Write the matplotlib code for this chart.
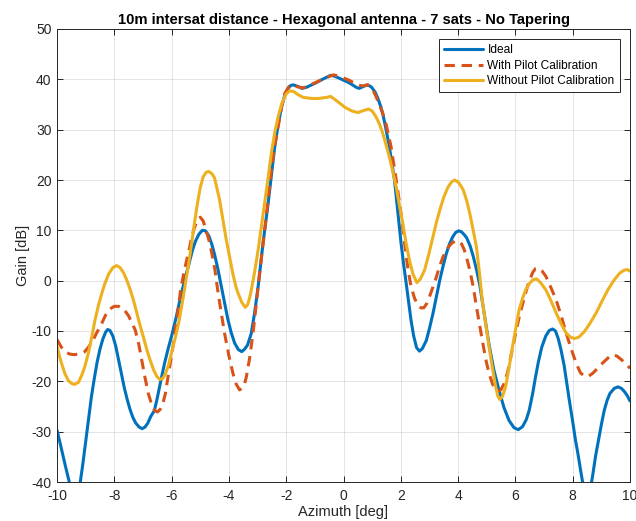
import matplotlib
matplotlib.use("Agg")
import matplotlib.pyplot as plt

plt.rcParams['font.family'] = ['Liberation Sans', 'DejaVu Sans']
plt.rcParams['axes.unicode_minus'] = False

title = "10m intersat distance - Hexagonal antenna - 7 sats - No Tapering"
xlabel = "Azimuth [deg]"
ylabel = "Gain [dB]"
labels = ["Ideal", "With Pilot Calibration", "Without Pilot Calibration"]

ideal_az = [-10.0, -9.85, -9.7, -9.55, -9.38, -9.2, -9.1, -9.0, -8.9, -8.8, -8.7, -8.6, -8.5,
            -8.4, -8.3, -8.23, -8.15, -8.05, -7.95, -7.85, -7.75, -7.65, -7.55, -7.45, -7.35,
            -7.25, -7.13, -7.03, -6.93, -6.83, -6.73, -6.6, -6.5, -6.37, -6.25, -6.12, -6.0,
            -5.85, -5.7, -5.55, -5.4, -5.28, -5.17, -5.05, -4.93, -4.82, -4.7, -4.6, -4.5,
            -4.38, -4.27, -4.15, -4.04, -3.92, -3.8, -3.67, -3.55, -3.45, -3.35, -3.22, -3.1,
            -2.98, -2.9, -2.81, -2.72, -2.63, -2.52, -2.4, -2.28, -2.16, -2.05, -1.93, -1.84,
            -1.75, -1.6, -1.45, -1.3, -1.0, -0.7, -0.45, -0.3, -0.1, 0.2, 0.45, 0.55, 0.7,
            0.84, 0.97, 1.1, 1.2, 1.3, 1.37, 1.48, 1.6, 1.7, 1.78, 1.89, 2.01, 2.1, 2.19,
            2.28, 2.36, 2.45, 2.55, 2.65, 2.75, 2.89, 3.0, 3.12, 3.24, 3.36, 3.48, 3.59, 3.7,
            3.82, 3.92, 4.02, 4.12, 4.22, 4.3, 4.42, 4.53, 4.65, 4.76, 4.92, 5.08, 5.25, 5.43,
            5.6, 5.78, 5.95, 6.1, 6.25, 6.38, 6.48, 6.6, 6.7, 6.8, 6.92, 7.06, 7.18, 7.3, 7.4,
            7.5, 7.59, 7.7, 7.8, 7.88, 8.0, 8.1, 8.18, 8.3, 8.4, 8.5, 8.6, 8.7, 8.8, 8.88,
            9.0, 9.1, 9.2, 9.3, 9.45, 9.58, 9.7, 9.8, 9.9, 10.0]
ideal_gain = [-29.7, -33.3, -37.0, -40.5, -43.0, -40.5, -36.5, -32.0, -27.5, -23.1, -19.5, -16.2, -13.6,
              -11.6, -10.2, -9.7, -9.9, -11.0, -13.0, -15.8, -18.6, -21.3, -23.6, -25.6, -27.2,
              -28.3, -29.1, -29.4, -29.1, -28.3, -27.0, -25.8, -23.3, -19.7, -16.5, -13.5, -11.0,
              -7.5, -3.6, 0.0, 3.2, 5.9, 7.8, 9.2, 10.0, 9.9, 8.9, 7.3, 5.2,
              2.2, -1.0, -4.6, -7.6, -10.3, -12.4, -13.7, -14.1, -13.6, -12.8, -10.5, -6.3,
              -1.2, 2.8, 7.4, 11.4, 15.4, 20.8, 26.6, 31.0, 34.6, 36.8, 38.2, 38.8,
              38.9, 38.6, 38.2, 38.4, 39.2, 40.1, 40.8, 40.6, 40.1, 39.3, 38.4, 38.2, 38.6,
              38.9, 38.5, 37.5, 36.2, 34.6, 33.2, 30.2, 26.6, 23.0, 20.0, 14.0, 7.4, 3.2, -0.6,
              -4.6, -8.0, -11.0, -13.3, -14.0, -13.5, -11.9, -9.5, -6.6, -3.2, 0.1, 3.0, 5.4, 7.3,
              8.8, 9.6, 9.9, 9.7, 9.1, 8.5, 6.9, 4.8, 2.0, -1.0, -6.8, -12.7, -17.8, -21.8,
              -25.2, -27.8, -29.2, -29.6, -29.0, -27.6, -25.8, -22.5, -19.2, -16.2, -13.2, -11.0, -9.9, -9.6, -10.0,
              -11.6, -13.7, -16.8, -20.6, -23.7, -28.0, -31.8, -34.3, -38.5, -41.8, -43.5, -42.0, -38.6, -34.8, -32.3,
              -28.6, -25.8, -23.8, -22.4, -21.4, -21.1, -21.4, -22.0, -22.8, -23.9]

pilot_az = [-10.0, -9.85, -9.7, -9.55, -9.38, -9.2, -9.03, -8.9, -8.74, -8.6, -8.44, -8.3, -8.15,
            -8.0, -7.85, -7.7, -7.6, -7.5, -7.4, -7.27, -7.15, -7.04, -6.93, -6.81, -6.7, -6.6,
            -6.5, -6.4, -6.3, -6.22, -6.1, -6.0, -5.92, -5.8, -5.69, -5.55, -5.4, -5.3, -5.2,
            -5.1, -5.0, -4.9, -4.8, -4.7, -4.62, -4.5, -4.39, -4.27, -4.15, -4.0, -3.86, -3.75,
            -3.63, -3.52, -3.45, -3.39, -3.28, -3.16, -3.07, -2.98, -2.87, -2.75, -2.63, -2.52,
            -2.4, -2.28, -2.16, -2.05, -1.9, -1.75, -1.6, -1.4, -1.2, -1.0, -0.7, -0.35, -0.1,
            0.2, 0.5, 0.65, 0.84, 0.95, 1.05, 1.15, 1.25, 1.37, 1.49, 1.58, 1.66, 1.75, 1.84,
            1.93, 2.01, 2.1, 2.19, 2.28, 2.36, 2.48, 2.6, 2.7, 2.8, 2.9, 3.0, 3.12, 3.24, 3.35,
            3.47, 3.6, 3.77, 3.9, 4.02, 4.12, 4.21, 4.29, 4.4, 4.53, 4.62, 4.72, 4.84, 4.96,
            5.08, 5.2, 5.31, 5.4, 5.49, 5.6, 5.72, 5.85, 6.01, 6.15, 6.3, 6.45, 6.6, 6.7, 6.8,
            6.92, 7.06, 7.25, 7.42, 7.6, 7.77, 7.95, 8.12, 8.27, 8.41, 8.55, 8.7, 8.82, 9.0,
            9.17, 9.3, 9.4, 9.55, 9.7, 9.85, 10.0]
pilot_gain = [-11.7, -13.2, -14.2, -14.6, -14.7, -14.5, -14.1, -13.2, -11.8, -10.2, -8.5, -6.8, -5.6,
              -5.1, -5.1, -5.5, -6.2, -7.0, -8.2, -9.8, -12.5, -15.8, -19.2, -22.5, -24.5, -25.7,
              -26.1, -25.6, -24.3, -22.5, -18.2, -14.8, -11.8, -7.0, -2.0, 2.2, 5.8, 8.6, 10.6,
              12.0, 12.6, 11.9, 10.1, 8.1, 6.1, 2.6, -1.9, -6.3, -10.5, -14.9, -18.4, -20.5,
              -21.7, -21.3, -20.4, -19.1, -15.5, -10.5, -6.0, -1.2, 4.3, 10.1, 16.2, 22.0,
              26.8, 30.6, 34.5, 37.2, 38.6, 38.9, 38.5, 38.3, 38.8, 39.3, 40.1, 40.9, 40.5,
              39.8, 38.9, 38.7, 38.9, 38.4, 37.6, 36.4, 35.0, 33.2, 31.0, 28.7, 26.6, 23.3, 20.0,
              16.5, 13.3, 9.0, 4.7, 1.3, -1.2, -3.5, -4.9, -5.4, -5.4, -4.6, -3.2, -1.3, 0.7, 2.8,
              4.7, 6.2, 7.4, 7.9, 7.8, 7.3, 6.2, 4.7, 2.3, -1.2, -4.5, -7.8, -11.7, -15.5,
              -18.4, -20.5, -21.6, -21.9, -21.7, -20.5, -18.4, -14.8, -10.4, -6.8, -3.6, -0.6, 1.6, 2.4, 2.5,
              2.0, 0.9, -1.5, -3.8, -7.0, -10.4, -13.6, -16.4, -18.3, -19.0, -19.0, -18.4, -17.7, -16.6,
              -15.7, -15.0, -14.7, -15.0, -15.7, -16.5, -17.4]

nopilot_az = [-10.0, -9.87, -9.73, -9.6, -9.47, -9.38, -9.25, -9.13, -9.03, -8.9, -8.78, -8.68,
              -8.55, -8.43, -8.33, -8.2, -8.05, -7.92, -7.8, -7.68, -7.57, -7.45, -7.33, -7.22,
              -7.1, -6.98, -6.87, -6.75, -6.63, -6.52, -6.42, -6.32, -6.22, -6.1, -6.0, -5.87,
              -5.75, -5.6, -5.5, -5.4, -5.3, -5.2, -5.1, -5.0, -4.9, -4.8, -4.71, -4.6, -4.5,
              -4.33, -4.21, -4.1, -3.98, -3.86, -3.75, -3.68, -3.55, -3.43, -3.35, -3.28, -3.22,
              -3.1, -2.98, -2.87, -2.75, -2.63, -2.52, -2.4, -2.28, -2.15, -2.0, -1.88, -1.75,
              -1.6, -1.4, -1.1, -0.88, -0.6, -0.45, -0.3, -0.1, 0.06, 0.3, 0.5, 0.7, 0.88, 1.0,
              1.13, 1.25, 1.37, 1.48, 1.6, 1.72, 1.84, 1.95, 2.07, 2.18, 2.3, 2.42, 2.56, 2.68,
              2.83, 2.97, 3.12, 3.24, 3.36, 3.5, 3.65, 3.77, 3.88, 4.0, 4.1, 4.18, 4.3, 4.41,
              4.52, 4.64, 4.74, 4.84, 4.96, 5.08, 5.2, 5.31, 5.38, 5.45, 5.55, 5.66, 5.78, 5.9,
              6.02, 6.13, 6.25, 6.36, 6.5, 6.62, 6.74, 6.88, 7.06, 7.25, 7.42, 7.6, 7.77, 7.92,
              8.06, 8.22, 8.41, 8.6, 8.82, 9.02, 9.23, 9.43, 9.64, 9.8, 9.9, 10.0]
nopilot_gain = [-13.1, -15.9, -18.4, -19.9, -20.5, -20.6, -20.2, -18.7, -17.1, -14.3, -11.0, -8.0,
                -4.8, -2.4, -0.6, 1.3, 2.6, 3.0, 2.6, 1.6, 0.2, -1.7, -3.9, -6.3,
                -8.9, -11.3, -13.6, -15.8, -17.7, -19.0, -19.6, -19.5, -18.6, -16.6, -14.2, -11.3,
                -8.3, -3.5, 0.1, 3.5, 7.5, 11.5, 15.3, 18.5, 20.6, 21.5, 21.7, 21.3, 20.4,
                16.2, 12.1, 8.4, 4.8, 1.3, -1.3, -2.5, -4.3, -5.3, -4.8, -3.5, -1.9,
                1.8, 6.1, 10.6, 15.4, 20.5, 25.3, 29.4, 32.6, 35.3, 37.1, 37.7, 37.6,
                37.0, 36.4, 36.2, 36.2, 36.4, 36.6, 36.0, 35.1, 34.4, 33.7, 33.4, 33.8, 34.1, 33.7,
                32.6, 31.2, 29.3, 27.1, 24.6, 21.7, 18.6, 15.0, 11.4, 7.6, 4.1, 1.4, -0.4, 0.3,
                2.1, 5.1, 8.7, 11.5, 14.0, 16.6, 18.6, 19.6, 20.0, 19.6, 18.8, 18.0, 15.9, 13.3,
                10.2, 6.7, 1.8, -3.8, -8.5, -13.1, -17.4, -21.0, -22.8, -23.6, -23.0, -21.0, -17.2, -13.1,
                -9.2, -5.8, -3.5, -1.8, -0.5, 0.2, 0.35, -0.4, -1.8, -4.1, -6.4, -8.6, -10.4, -11.2,
                -11.5, -11.2, -10.1, -8.5, -6.4, -4.1, -1.8, 0.0, 1.5, 2.1, 2.2, 1.9]

xticks = [-10, -8, -6, -4, -2, 0, 2, 4, 6, 8, 10]
yticks = [-40, -30, -20, -10, 0, 10, 20, 30, 40, 50]

dark = (0.15, 0.15, 0.15)
fig = plt.figure(figsize=(6.36, 5.21), dpi=100)
ax = fig.add_axes([57/636, 1 - 482/521, (630 - 57)/636, (482 - 29)/521])

ax.plot(ideal_az, ideal_gain, color='#0072BD', lw=2.2, label=labels[0],
        solid_joinstyle='round', solid_capstyle='round')
ax.plot(pilot_az, pilot_gain, color='#D95319', lw=2.2, ls=(0, (3.4, 2.2)), label=labels[1],
        dash_joinstyle='round')
ax.plot(nopilot_az, nopilot_gain, color='#EDB120', lw=2.2, label=labels[2],
        solid_joinstyle='round', solid_capstyle='round')

ax.set_xlim(-10, 10)
ax.set_ylim(-40, 50)
ax.set_xticks(xticks)
ax.set_yticks(yticks)
ax.grid(True, color=(0.15, 0.15, 0.15), alpha=0.12, lw=0.7)
ax.tick_params(direction='in', top=True, right=True, length=4, width=0.7,
               colors=dark, labelsize=10)
ax.tick_params(axis='x', pad=5)
ax.tick_params(axis='y', pad=4)
for s in ax.spines.values():
    s.set_color(dark)
    s.set_linewidth(0.7)

ax.set_title(title, fontsize=10.6, fontweight='bold', color='black', pad=3.8)
ax.set_xlabel(xlabel, fontsize=10.5, color=dark, labelpad=1.2)
ax.set_ylabel(ylabel, fontsize=10.5, color=dark, labelpad=1)

leg = ax.legend(loc='upper right', bbox_to_anchor=(0.9825, 0.978), borderaxespad=0,
                fontsize=8.6, frameon=True, fancybox=False, handlelength=3.2,
                handletextpad=0.4, borderpad=0.45, labelspacing=0.28)
leg.get_frame().set_edgecolor(dark)
leg.get_frame().set_linewidth(0.7)
leg.get_frame().set_alpha(1)

fig.savefig("out.png", dpi=100)
